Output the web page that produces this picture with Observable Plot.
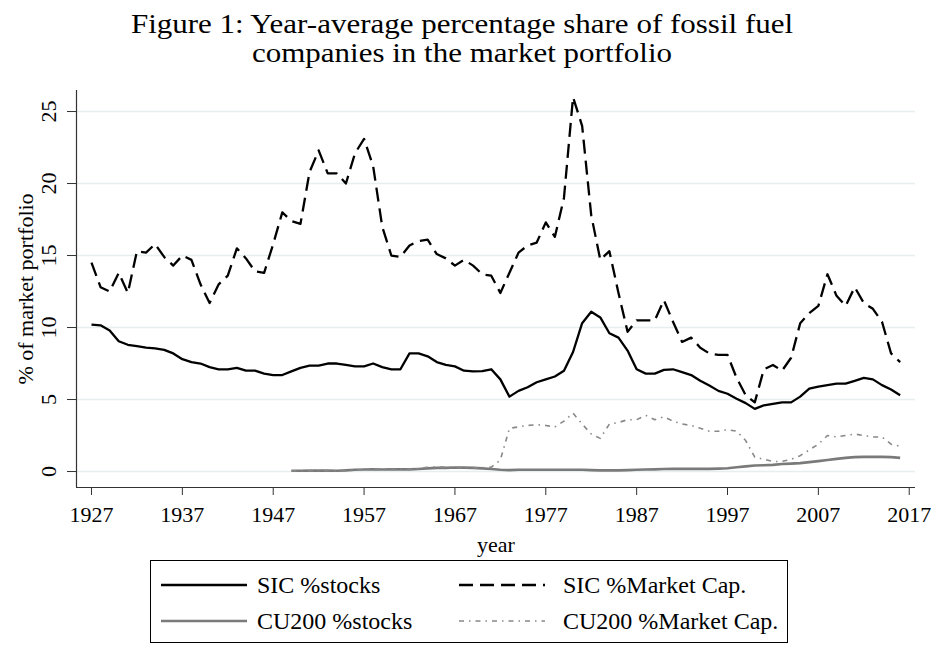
<!DOCTYPE html>
<html>
<head>
<meta charset="utf-8">
<script src="https://cdn.jsdelivr.net/npm/d3@7"></script>
<script src="https://cdn.jsdelivr.net/npm/@observablehq/plot@0.6"></script>
<style>
  html, body { margin: 0; padding: 0; background: #fff; }
  #wrap { width: 936px; height: 646px; position: relative; overflow: hidden; font-family: "Liberation Serif", "DejaVu Serif", serif; }
  .tline { position: absolute; left: 0; width: 924px; text-align: center; font-size: 31px; line-height: 31px; color: #000; white-space: nowrap; transform: scaleY(0.86); transform-origin: 0 0; }
  #chart { position: absolute; left: 0; top: 68px; }
  #legend { position: absolute; left: 150px; top: 560px; width: 638px; height: 83px; border: 1px solid #000; box-sizing: border-box; }
  .entry { position: absolute; font-size: 24px; line-height: 24px; white-space: nowrap; color: #000; }
  .entry svg { position: absolute; left: 0; top: 5px; }
  .entry span { position: absolute; top: 0; }
</style>
</head>
<body>
<div id="wrap">
  <div class="tline" style="top:11px">Figure 1: Year-average percentage share of fossil fuel</div>
  <div class="tline" style="top:40px">companies in the market portfolio</div>
  <div id="chart"></div>
  <div id="legend"></div>
</div>
<script>
// ---- data ----
const sicStart = 1927;
const cuStart = 1949;
const sicStocks = [10.2,10.15,9.8,9.05,8.8,8.7,8.6,8.55,8.45,8.2,
  7.8,7.6,7.5,7.25,7.1,7.1,7.2,7.0,7.0,6.8,
  6.7,6.7,6.95,7.2,7.35,7.35,7.5,7.5,7.4,7.3,
  7.3,7.5,7.25,7.1,7.1,8.2,8.2,8.0,7.6,7.4,
  7.3,7.0,6.95,6.97,7.1,6.4,5.2,5.6,5.85,6.2,
  6.4,6.6,7.0,8.3,10.3,11.1,10.7,9.6,9.3,8.4,
  7.1,6.8,6.8,7.06,7.1,6.9,6.7,6.3,5.97,5.6,
  5.4,5.05,4.75,4.35,4.6,4.7,4.8,4.8,5.2,5.75,
  5.9,6.0,6.1,6.1,6.3,6.5,6.4,6.0,5.7,5.3];
const sicMktCap = [14.5,12.8,12.5,13.8,12.4,15.3,15.2,15.8,14.9,14.3,
  15.0,14.7,13.0,11.7,13.0,13.6,15.5,14.8,13.9,13.8,
  15.8,18.0,17.4,17.2,20.8,22.3,20.7,20.7,20.0,22.1,
  23.1,21.2,17.0,15.0,14.9,15.7,16.0,16.1,15.1,14.8,
  14.3,14.7,14.3,13.7,13.6,12.4,13.8,15.2,15.7,15.9,
  17.3,16.3,19.0,26.0,24.0,17.8,14.7,15.3,12.4,9.7,
  10.5,10.5,10.5,11.9,10.4,9.0,9.3,8.6,8.2,8.1,
  8.1,6.5,5.3,4.8,7.1,7.4,7.0,7.9,10.3,11.0,
  11.5,13.7,12.2,11.5,12.8,11.7,11.3,10.4,8.2,7.6];
const cuStocks = [0.05,0.05,0.06,0.06,0.07,0.05,0.08,0.12,0.14,0.15,
  0.14,0.15,0.15,0.15,0.18,0.22,0.25,0.25,0.28,0.27,
  0.25,0.22,0.18,0.12,0.10,0.12,0.12,0.12,0.12,0.12,
  0.12,0.12,0.12,0.10,0.08,0.08,0.08,0.10,0.12,0.14,
  0.15,0.17,0.18,0.18,0.18,0.18,0.18,0.20,0.23,0.30,
  0.36,0.42,0.44,0.46,0.52,0.55,0.58,0.65,0.72,0.80,
  0.88,0.95,1.0,1.02,1.02,1.02,1.0,0.95];
const cuMktCap = [0.04,0.04,0.05,0.05,0.06,0.03,0.05,0.10,0.12,0.13,
  0.12,0.14,0.14,0.15,0.20,0.30,0.32,0.30,0.30,0.28,
  0.27,0.26,0.30,0.80,3.0,3.1,3.2,3.25,3.2,3.1,
  3.5,4.05,3.3,2.6,2.3,3.3,3.4,3.6,3.6,3.9,
  3.6,3.8,3.5,3.3,3.2,3.0,2.8,2.8,2.9,2.8,
  2.15,1.0,0.85,0.7,0.7,0.85,1.1,1.5,1.9,2.5,
  2.4,2.5,2.6,2.5,2.4,2.4,1.9,1.75];
const seriesNames = ["SIC %stocks", "SIC %Market Cap.", "CU200 %stocks", "CU200 %Market Cap."];
const xTicks = [1927,1937,1947,1957,1967,1977,1987,1997,2007,2017];
const yTicks = [0,5,10,15,20,25];
const xLabel = "year";
const yLabel = "% of market portfolio";

// ---- build rows ----
const toRows = (vals, start, name) => vals.map((v, i) => ({year: start + i, value: v, series: name}));
const rSicS = toRows(sicStocks, sicStart, seriesNames[0]);
const rSicM = toRows(sicMktCap, sicStart, seriesNames[1]);
const rCuS = toRows(cuStocks, cuStart, seriesNames[2]);
const rCuM = toRows(cuMktCap, cuStart, seriesNames[3]);

const styles = {
  [seriesNames[0]]: {stroke: "#000", strokeWidth: 2.3, dash: null},
  [seriesNames[1]]: {stroke: "#000", strokeWidth: 2.3, dash: "14,7"},
  [seriesNames[2]]: {stroke: "#7a7a7a", strokeWidth: 2.6, dash: null},
  [seriesNames[3]]: {stroke: "#888", strokeWidth: 1.6, dash: "5,5,1.5,5"}
};
const serif = "Liberation Serif, DejaVu Serif, serif";
const xDom = [1925.35, 2017.69];
const yDom = [-1.11, 26.46];

const lineMark = (rows, name) => Plot.line(rows, {
  x: "year", y: "value",
  stroke: styles[name].stroke, strokeWidth: styles[name].strokeWidth,
  strokeDasharray: styles[name].dash, strokeLinejoin: "round", strokeLinecap: "butt"
});

const plot = Plot.plot({
  width: 936, height: 490,
  marginLeft: 76, marginRight: 21, marginTop: 22, marginBottom: 71,
  style: {fontFamily: serif, background: "transparent"},
  x: {domain: xDom, axis: null},
  y: {domain: yDom, axis: null},
  marks: [
    Plot.ruleY(yTicks, {stroke: "#e6eef0", strokeWidth: 1.6}),
    lineMark(rCuS, seriesNames[2]),
    lineMark(rCuM, seriesNames[3]),
    lineMark(rSicS, seriesNames[0]),
    lineMark(rSicM, seriesNames[1]),
    Plot.ruleX([xDom[0]], {stroke: "#333", strokeWidth: 1.2}),
    Plot.ruleY([yDom[0]], {stroke: "#333", strokeWidth: 1.2}),
    Plot.axisY({ticks: yTicks, tickSize: 9, tickFormat: () => "", stroke: "#333", label: null}),
    Plot.text(yTicks, {y: d => d, text: d => String(d), frameAnchor: "left", dx: -28, rotate: -90, textAnchor: "middle", lineAnchor: "middle", fontSize: 22, fill: "#000"}),
    Plot.axisX({ticks: xTicks, tickSize: 8, tickPadding: 11, tickFormat: d => String(d), fontSize: 22, stroke: "#333", fill: "#000", label: null}),
    Plot.text([xLabel], {frameAnchor: "bottom", dy: 57, fontSize: 22, fill: "#000", lineAnchor: "middle"}),
    Plot.text([yLabel], {frameAnchor: "left", dx: -51, rotate: -90, fontSize: 22, fill: "#000", textAnchor: "middle", lineAnchor: "middle"})
  ]
});
document.getElementById("chart").appendChild(plot);

// ---- legend ----
const legend = document.getElementById("legend");
// [entry left, entry top, text offset]
const pos = [[10, 12, 96], [308, 12, 104], [10, 48, 96], [308, 48, 104]];
seriesNames.forEach((name, i) => {
  const s = styles[name];
  const e = document.createElement("div");
  e.className = "entry";
  e.style.left = pos[i][0] + "px";
  e.style.top = pos[i][1] + "px";
  const svg = d3.create("svg").attr("width", 86).attr("height", 14);
  svg.append("line").attr("x1", 0).attr("x2", 86).attr("y1", 7).attr("y2", 7)
    .attr("stroke", s.stroke).attr("stroke-width", s.strokeWidth)
    .attr("stroke-dasharray", s.dash);
  e.appendChild(svg.node());
  const t = document.createElement("span");
  t.style.left = pos[i][2] + "px";
  t.textContent = name;
  e.appendChild(t);
  legend.appendChild(e);
});
</script>
</body>
</html>
